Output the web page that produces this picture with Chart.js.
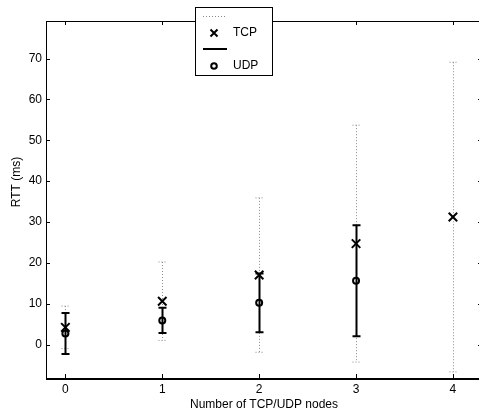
<!DOCTYPE html>
<html>
<head>
<meta charset="utf-8">
<script src="https://cdn.jsdelivr.net/npm/chart.js@4.4.1/dist/chart.umd.min.js"></script>
<style>
  html, body { margin: 0; padding: 0; background: #fff; overflow: hidden; }
  #c { position: absolute; left: 0; top: 0; }
</style>
</head>
<body>
<canvas id="c" width="490" height="416"></canvas>
<script>
// values
const nodes = [0, 1, 2, 3, 4];
const tcpMean = [4.2, 10.6, 17.0, 24.7, 31.2];
const tcpErr = [5.2, 9.6, 18.9, 29.0, 37.9];
const udpNodes = [0, 1, 2, 3];
const udpMean = [2.7, 5.9, 10.2, 15.6];
const udpErr = [5.0, 3.1, 7.2, 13.6];

const xTicks = [0, 1, 2, 3, 4];
const yTicks = [0, 10, 20, 30, 40, 50, 60, 70];
const xTitle = 'Number of TCP/UDP nodes';
const yTitle = 'RTT (ms)';
const seriesNames = ['TCP', 'UDP'];

const FAMILY = '"Liberation Sans", Arial, sans-serif';
const FONT = '12px ' + FAMILY;

function crossMark(ctx, x, y, h) {
  ctx.beginPath();
  ctx.moveTo(x - h, y - h); ctx.lineTo(x + h, y + h);
  ctx.moveTo(x - h, y + h); ctx.lineTo(x + h, y - h);
  ctx.stroke();
}

// error bars drawn under the markers
const errorBars = {
  id: 'errorBars',
  beforeDatasetsDraw(chart) {
    const { ctx, scales: { x, y } } = chart;
    const draw = (xs, mean, err, dotted) => {
      ctx.save();
      if (dotted) {
        ctx.strokeStyle = '#8a8a8a';
        ctx.lineWidth = 1;
        ctx.setLineDash([1, 2]);
      } else {
        ctx.strokeStyle = '#000';
        ctx.lineWidth = 2;
      }
      xs.forEach((v, i) => {
        const px = Math.round(x.getPixelForValue(v)) + 0.5;
        const top = y.getPixelForValue(mean[i] + err[i]);
        const bot = y.getPixelForValue(mean[i] - err[i]);
        ctx.beginPath();
        ctx.moveTo(px, top); ctx.lineTo(px, bot);
        ctx.moveTo(px - 4, top); ctx.lineTo(px + 4, top);
        ctx.moveTo(px - 4, bot); ctx.lineTo(px + 4, bot);
        ctx.stroke();
      });
      ctx.restore();
    };
    draw(nodes, tcpMean, tcpErr, true);
    draw(udpNodes, udpMean, udpErr, false);
  }
};

// matlab style box, inward ticks, axis titles and legend
const frame = {
  id: 'frame',
  afterDraw(chart) {
    const { ctx, chartArea: a, scales: { x, y } } = chart;
    ctx.save();
    ctx.strokeStyle = '#000';
    ctx.lineWidth = 1;
    ctx.strokeRect(a.left + 0.5, a.top + 0.5, a.right - a.left, a.bottom - a.top);
    ctx.beginPath();
    ctx.moveTo(a.left, a.bottom + 1.5); ctx.lineTo(a.right, a.bottom + 1.5);
    xTicks.forEach(v => {
      const px = Math.round(x.getPixelForValue(v)) + 0.5;
      ctx.moveTo(px, a.bottom); ctx.lineTo(px, a.bottom - 4);
      ctx.moveTo(px, a.top); ctx.lineTo(px, a.top + 4);
    });
    yTicks.forEach(v => {
      const py = Math.round(y.getPixelForValue(v)) + 0.5;
      ctx.moveTo(a.left, py); ctx.lineTo(a.left + 4, py);
      ctx.moveTo(a.right, py); ctx.lineTo(a.right - 4, py);
    });
    ctx.stroke();

    ctx.fillStyle = '#000';
    ctx.font = FONT;
    ctx.textAlign = 'center';
    ctx.textBaseline = 'middle';
    ctx.fillText(xTitle, (a.left + a.right) / 2, 405);
    ctx.save();
    ctx.translate(17, 182);
    ctx.rotate(-Math.PI / 2);
    ctx.fillText(yTitle, 0, 0);
    ctx.restore();

    // legend
    const lx = 195, ly = 7, lw = 77, lh = 68;
    ctx.fillStyle = '#fff';
    ctx.fillRect(lx, ly, lw, lh);
    ctx.strokeRect(lx + 0.5, ly + 0.5, lw, lh);

    ctx.save();
    ctx.strokeStyle = '#8a8a8a';
    ctx.setLineDash([1, 2]);
    ctx.beginPath(); ctx.moveTo(203, 16.5); ctx.lineTo(227, 16.5); ctx.stroke();
    ctx.restore();

    ctx.lineWidth = 2;
    crossMark(ctx, 214, 33, 3.5);
    ctx.beginPath(); ctx.moveTo(203, 49); ctx.lineTo(227, 49); ctx.stroke();
    ctx.beginPath(); ctx.arc(214, 66, 2.8, 0, Math.PI * 2); ctx.stroke();

    ctx.fillStyle = '#000';
    ctx.textAlign = 'left';
    ctx.fillText(seriesNames[0], 233, 33);
    ctx.fillText(seriesNames[1], 233, 66);
    ctx.restore();
  }
};

new Chart(document.getElementById('c'), {
  type: 'scatter',
  data: {
    datasets: [
      {
        label: seriesNames[0],
        data: nodes.map((n, i) => ({ x: n, y: tcpMean[i] })),
        pointStyle: 'crossRot',
        pointRadius: 6,
        pointBorderWidth: 2,
        borderColor: '#000',
        backgroundColor: 'transparent'
      },
      {
        label: seriesNames[1],
        data: udpNodes.map((n, i) => ({ x: n, y: udpMean[i] })),
        pointStyle: 'circle',
        pointRadius: 3,
        pointBorderWidth: 2,
        borderColor: '#000',
        backgroundColor: 'transparent'
      }
    ]
  },
  options: {
    responsive: false,
    animation: false,
    layout: { padding: { top: 21, right: 8, left: 0, bottom: 0 } },
    plugins: {
      legend: { display: false },
      tooltip: { enabled: false }
    },
    scales: {
      x: {
        type: 'linear',
        min: -0.2,
        max: 4.3,
        afterBuildTicks: s => { s.ticks = xTicks.map(v => ({ value: v })); },
        afterFit: s => { s.height = 38; s.paddingLeft = 0; s.paddingRight = 0; },
        grid: { display: false, drawTicks: false },
        border: { display: false },
        ticks: { color: '#000', font: { family: FAMILY, size: 12 }, padding: 4, maxRotation: 0 }
      },
      y: {
        min: -8.2,
        max: 79.2,
        afterBuildTicks: s => { s.ticks = yTicks.map(v => ({ value: v })); },
        afterFit: s => { s.width = 46; s.paddingTop = 0; s.paddingBottom = 0; },
        grid: { display: false, drawTicks: false },
        border: { display: false },
        ticks: { color: '#000', font: { family: FAMILY, size: 12 }, padding: 4 }
      }
    }
  },
  plugins: [errorBars, frame]
});
</script>
</body>
</html>
